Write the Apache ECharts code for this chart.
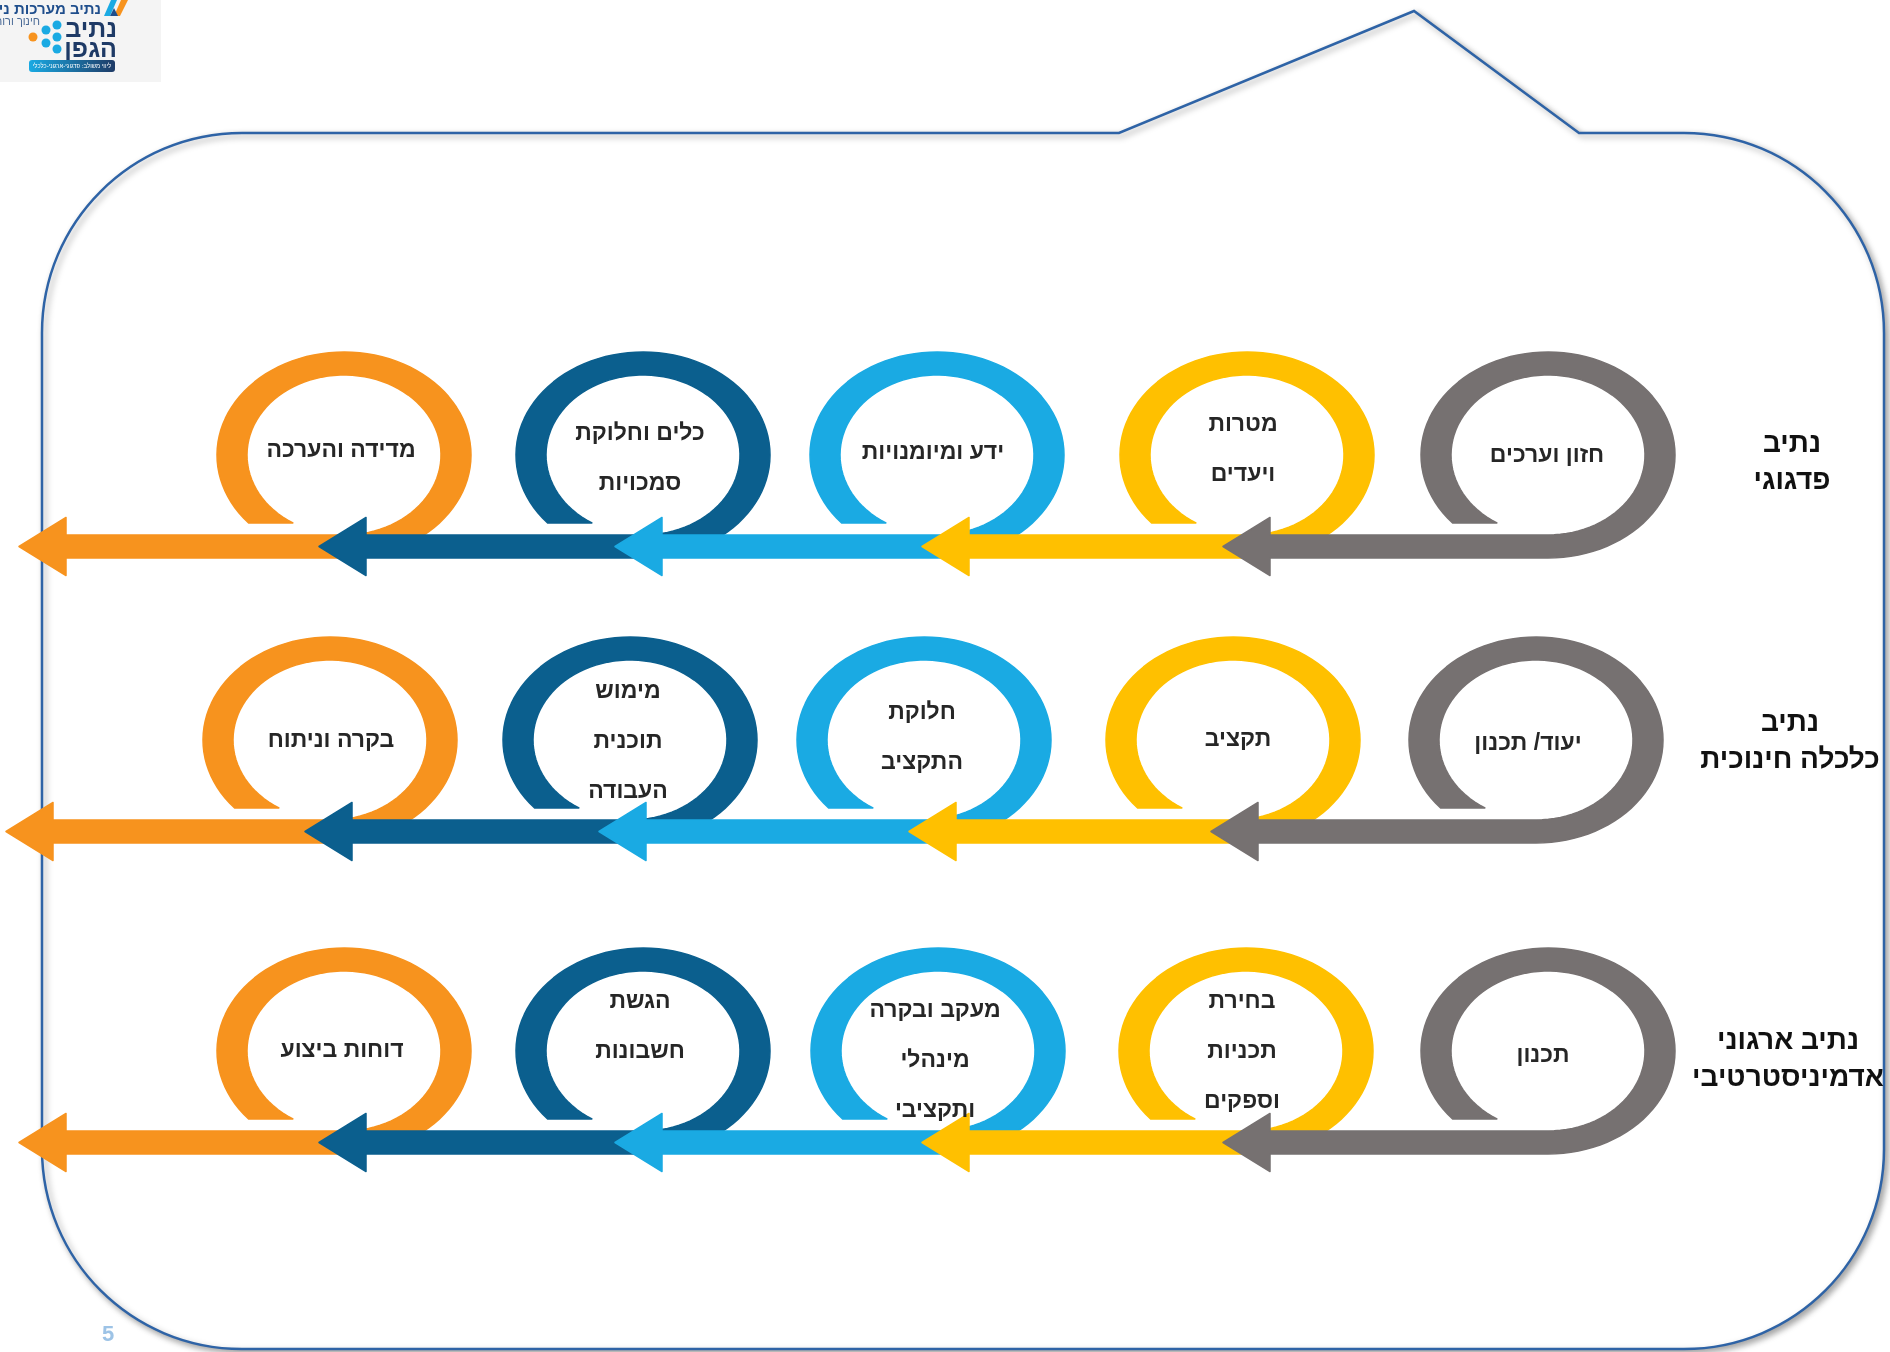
<!DOCTYPE html>
<html><head><meta charset="utf-8">
<script src="https://cdn.jsdelivr.net/npm/echarts@6/dist/echarts.min.js"></script>
<style>html,body{margin:0;padding:0;background:#fff}#c{width:1890px;height:1352px}</style>
</head><body><div id="c"></div><script>
// ---- data ----
const stepColors = ['#767171', '#FFC000', '#1AAAE3', '#0B5F8E', '#F7931E'];
const rowTitles = [['נתיב', 'פדגוגי'], ['נתיב', 'כלכלה חינוכית'], ['נתיב ארגוני', 'אדמיניסטרטיבי']];
const rowTitleX = [1792, 1790, 1788];
const rowTitleY = [463, 742, 1060];
const rowCenterY = [455, 740, 1051];
const rowLoopX = [[1548, 1247, 937, 643, 344], [1536, 1233, 924, 630, 330], [1548, 1246, 938, 643, 344]];
const rowTipX = [[1223, 922, 615, 319, 19], [1211, 909, 599, 305, 6], [1223, 922, 615, 319, 19]];
const row1Steps = [['חזון וערכים'], ['מטרות', 'ויעדים'], ['ידע ומיומנויות'], ['כלים וחלוקת', 'סמכויות'], ['מדידה והערכה']];
const row2Steps = [['יעוד/ תכנון'], ['תקציב'], ['חלוקת', 'התקציב'], ['מימוש', 'תוכנית', 'העבודה'], ['בקרה וניתוח']];
const row3Steps = [['תכנון'], ['בחירת', 'תכניות', 'וספקים'], ['מעקב ובקרה', 'מינהלי', 'ותקציבי'], ['הגשת', 'חשבונות'], ['דוחות ביצוע']];
const rowSteps = [row1Steps, row2Steps, row3Steps];
// x centre and first-line y of each step's text
const rowTextX = [[1547, 1243, 933, 640, 341], [1528, 1238, 922, 628, 331], [1543, 1242, 935, 640, 342]];
const rowTextY = [[456, 425, 453, 434, 451], [744, 740, 713, 692, 741], [1056, 1002, 1011, 1002, 1051]];
const frameBox = [42, 133, 1884, 1349];          // left, top, right, bottom
const frameNotch = [[1119, 133], [1414, 11], [1579, 133]];
const pageNumber = '5';

// ---- geometry / style constants ----
const RXO = 127, RYO = 103, RXI = 97, RYI = 80, CUT = 68, HEAD_LEN = 47, HEAD_HALF = 29, RAD = 200, LINE_H = 50;
const FONT = "'Liberation Sans', 'DejaVu Sans', Arial, sans-serif";

// build loop list, drawn from left to right so right items overlap left ones
const loops = [];
const labels = [];
for (let r = 0; r < 3; r++) {
  for (let s = 4; s >= 0; s--) {
    loops.push({ value: [rowLoopX[r][s], rowCenterY[r], rowTipX[r][s], s] });
    labels.push({ value: [rowTextX[r][s], rowTextY[r][s]], text: rowSteps[r][s].join('\n') });
  }
}

function renderLoop(params, api) {
  const cx = api.value(0), cy = api.value(1), tip = api.value(2), ci = api.value(3);
  const P = (x, y) => api.coord([x, y]);
  const pts = [];
  const t0o = Math.PI - Math.asin(CUT / RYO);
  const t0i = Math.PI - Math.asin(CUT / RYI);
  const tEnd = Math.PI * 2.5;
  const N = 90;
  for (let i = 0; i <= N; i++) {
    const t = t0o + (tEnd - t0o) * i / N;
    pts.push(P(cx + RXO * Math.cos(t), cy + RYO * Math.sin(t)));
  }
  const sb = cy + RYO, st = cy + RYI, sc = (sb + st) / 2, back = tip + HEAD_LEN;
  pts.push(P(back, sb));
  pts.push(P(back, sc + HEAD_HALF));
  pts.push(P(tip, sc));
  pts.push(P(back, sc - HEAD_HALF));
  pts.push(P(back, st));
  for (let i = 0; i <= N; i++) {
    const t = tEnd - (tEnd - t0i) * i / N;
    pts.push(P(cx + RXI * Math.cos(t), cy + RYI * Math.sin(t)));
  }
  return {
    type: 'polygon',
    shape: { points: pts },
    style: { fill: stepColors[ci], stroke: stepColors[ci], lineWidth: 1.5, lineJoin: 'round' }
  };
}

function renderLoopText(params, api) {
  const c = api.coord([api.value(0), api.value(1)]);
  return {
    type: 'text',
    style: {
      text: labels[params.dataIndex].text, x: c[0], y: c[1] - LINE_H / 2,
      fill: '#262626', font: 'bold 23px ' + FONT, align: 'center', verticalAlign: 'top', lineHeight: LINE_H
    }
  };
}

const titleData = rowTitles.map((t, i) => ({ value: [rowTitleX[i], rowTitleY[i]], text: t.join('\n') }));
function renderTitle(params, api) {
  const c = api.coord([api.value(0), api.value(1)]);
  return {
    type: 'text',
    style: {
      text: titleData[params.dataIndex].text, x: c[0], y: c[1],
      fill: '#111', font: 'bold 28px ' + FONT, align: 'center', verticalAlign: 'middle', lineHeight: 37
    }
  };
}

function renderFrame(params, api) {
  const [l, t, r, b] = frameBox;
  const P = (x, y) => api.coord([x, y]);
  const k = 0.5523 * RAD;
  const f = (p) => p[0].toFixed(1) + ' ' + p[1].toFixed(1);
  let d = 'M' + f(P(l + RAD, t));
  frameNotch.forEach(n => { d += ' L' + f(P(n[0], n[1])); });
  d += ' L' + f(P(r - RAD, t));
  d += ' C' + f(P(r - RAD + k, t)) + ' ' + f(P(r, t + RAD - k)) + ' ' + f(P(r, t + RAD));
  d += ' L' + f(P(r, b - RAD));
  d += ' C' + f(P(r, b - RAD + k)) + ' ' + f(P(r - RAD + k, b)) + ' ' + f(P(r - RAD, b));
  d += ' L' + f(P(l + RAD, b));
  d += ' C' + f(P(l + RAD - k, b)) + ' ' + f(P(l, b - RAD + k)) + ' ' + f(P(l, b - RAD));
  d += ' L' + f(P(l, t + RAD));
  d += ' C' + f(P(l, t + RAD - k)) + ' ' + f(P(l + RAD - k, t)) + ' ' + f(P(l + RAD, t)) + ' Z';
  return {
    type: 'path',
    shape: { pathData: d },
    style: {
      fill: '#fff', stroke: '#2E63A6', lineWidth: 2.5,
      shadowColor: 'rgba(0,0,0,0.35)', shadowBlur: 6, shadowOffsetX: 3, shadowOffsetY: 3
    }
  };
}

const chart = echarts.init(document.getElementById('c'), null, { renderer: 'canvas' });
chart.setOption({
  animation: false,
  backgroundColor: '#fff',
  grid: { left: 0, right: 0, top: 0, bottom: 0 },
  xAxis: { type: 'value', min: 0, max: 1890, show: false },
  yAxis: { type: 'value', min: 0, max: 1352, inverse: true, show: false },
  graphic: [
    { type: 'rect', shape: { x: 0, y: 0, width: 161, height: 82 }, style: { fill: '#F4F4F4' }, z: 10 },
    { type: 'text', style: { text: 'נתיב מערכות ניהול', x: 101, y: 10, align: 'right', verticalAlign: 'middle', font: 'bold 15px ' + FONT, fill: '#1F4E8C' }, z: 11 },
    { type: 'text', style: { text: 'חינוך ורוח', x: 40, y: 22, align: 'right', verticalAlign: 'middle', font: '11px ' + FONT, fill: '#4A6A96' }, z: 11 },
    { type: 'polygon', shape: { points: [[104, 16], [111, 0], [117, 0], [110, 16]] }, style: { fill: '#1AAAE3' }, z: 11 },
    { type: 'polygon', shape: { points: [[114, 16], [121, 0], [128, 0], [120, 16]] }, style: { fill: '#F7931E' }, z: 11 },
    { type: 'polygon', shape: { points: [[110, 16], [114, 8], [118, 16]] }, style: { fill: '#1F4E8C' }, z: 11 },
    { type: 'text', style: { text: 'נתיב', x: 117, y: 30, align: 'right', verticalAlign: 'middle', font: '900 25px ' + FONT, fill: '#1E3A66' }, z: 11 },
    { type: 'text', style: { text: 'הגפן', x: 117, y: 50, align: 'right', verticalAlign: 'middle', font: '900 25px ' + FONT, fill: '#1E3A66' }, z: 11 },
    { type: 'circle', shape: { cx: 33, cy: 37, r: 4.5 }, style: { fill: '#F7931E' }, z: 11 },
    { type: 'circle', shape: { cx: 46, cy: 30, r: 4.5 }, style: { fill: '#1AAAE3' }, z: 11 },
    { type: 'circle', shape: { cx: 46, cy: 43, r: 4.5 }, style: { fill: '#1AAAE3' }, z: 11 },
    { type: 'circle', shape: { cx: 57, cy: 25, r: 4.5 }, style: { fill: '#1AAAE3' }, z: 11 },
    { type: 'circle', shape: { cx: 57, cy: 37, r: 4.5 }, style: { fill: '#1AAAE3' }, z: 11 },
    { type: 'circle', shape: { cx: 57, cy: 49, r: 4.5 }, style: { fill: '#1AAAE3' }, z: 11 },
    { type: 'rect', shape: { x: 29, y: 60, width: 86, height: 12, r: 3 }, style: { fill: new echarts.graphic.LinearGradient(0, 0, 1, 0, [{ offset: 0, color: '#1AAAE3' }, { offset: 1, color: '#1E3A66' }]) }, z: 11 },
    { type: 'text', style: { text: 'ליווי משולב: פדגוגי-ארגוני-כלכלי', x: 72, y: 66, align: 'center', verticalAlign: 'middle', font: '6px ' + FONT, fill: '#fff' }, z: 12 },
    { type: 'text', style: { text: pageNumber, x: 108, y: 1335, align: 'center', verticalAlign: 'middle', font: 'bold 22px ' + FONT, fill: '#9DC3E6' }, z: 11 }
  ],
  series: [
    { type: 'custom', coordinateSystem: 'cartesian2d', renderItem: renderFrame, data: [[0, 0]], z: 1, silent: true },
    { type: 'custom', coordinateSystem: 'cartesian2d', renderItem: renderLoop, data: loops, z: 2, silent: true },
    { type: 'custom', coordinateSystem: 'cartesian2d', renderItem: renderLoopText, data: labels, z: 3, silent: true },
    { type: 'custom', coordinateSystem: 'cartesian2d', renderItem: renderTitle, data: titleData, z: 4, silent: true }
  ]
});
</script></body></html>
